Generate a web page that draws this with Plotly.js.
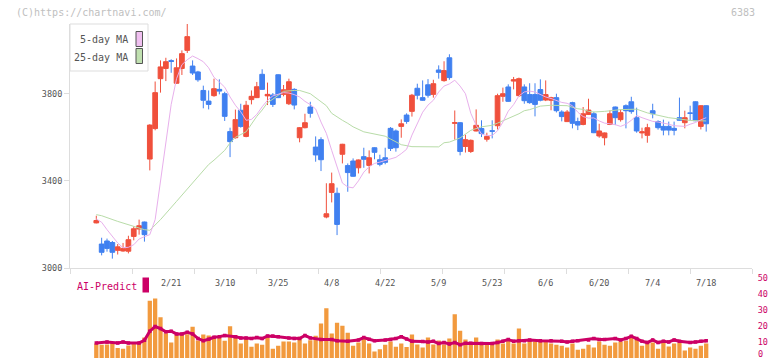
<!DOCTYPE html>
<html>
<head>
<meta charset="utf-8">
<script src="https://cdn.plot.ly/plotly-3.0.1.min.js"></script>
<style>html,body{margin:0;padding:0;background:#fff;}#chart{width:772px;height:361px;}</style>
</head>
<body>
<div id="chart"></div>
<script>
// ---- data (day index 0 = 1/31) ----
const dayIdx = Array.from({length: 115}, (_, i) => i);
const openP  = [3207,3110,3124,3117,3081,3078,3077,3145,3179,3211,3500,3640,3869,3916,3952,3848,3916,3999,3927,3900,3815,3766,3791,3820,3800,3626,3598,3724,3604,3773,3782,3889,3790,3794,3887,3797,3754,3820,3598,3644,3739,3555,3589,3234,3347,3343,3522,3470,3491,3460,3511,3471,3552,3497,3506,3641,3629,3650,3702,3719,3825,3782,3841,3797,3909,3860,3965,3664,3667,3558,3535,3629,3640,3591,3630,3653,3788,3831,3858,3791,3831,3796,3796,3819,3771,3770,3782,3716,3672,3759,3672,3659,3705,3708,3606,3598,3659,3739,3681,3745,3763,3690,3620,3609,3722,3672,3650,3650,3641,3690,3667,3712,3763,3650,3745];
const highP  = [3240,3139,3135,3124,3110,3115,3148,3191,3222,3213,3660,3856,3953,3965,3958,3962,3999,4121,3953,3905,3837,3815,3869,3866,3809,3644,3727,3754,3767,3815,3854,3912,3851,3803,3889,3840,3869,3825,3647,3708,3763,3604,3600,3389,3438,3369,3570,3480,3503,3498,3552,3540,3554,3520,3552,3647,3636,3682,3710,3799,3846,3861,3867,3864,3930,3949,3981,3723,3670,3612,3590,3728,3678,3621,3678,3800,3828,3843,3877,3874,3843,3848,3848,3866,3861,3786,3800,3724,3725,3763,3690,3739,3777,3717,3662,3622,3724,3741,3727,3751,3786,3736,3644,3662,3754,3678,3681,3672,3672,3782,3722,3745,3765,3747,3747];
const lowP   = [3205,3058,3075,3043,3062,3075,3067,3127,3153,3121,3448,3632,3805,3858,3896,3846,3886,3987,3886,3855,3733,3728,3786,3797,3675,3509,3594,3644,3600,3751,3780,3818,3748,3739,3780,3788,3748,3728,3577,3641,3690,3488,3445,3228,3301,3151,3480,3350,3419,3434,3460,3434,3499,3467,3476,3537,3534,3598,3662,3695,3774,3768,3782,3782,3869,3855,3864,3589,3517,3530,3528,3627,3601,3580,3595,3636,3763,3763,3820,3785,3754,3754,3696,3765,3766,3724,3714,3673,3670,3641,3633,3655,3703,3619,3598,3563,3656,3656,3672,3641,3708,3621,3595,3575,3687,3635,3609,3609,3609,3676,3641,3678,3674,3636,3626];
const closeP = [3218,3072,3090,3072,3097,3090,3130,3180,3194,3153,3656,3805,3923,3947,3948,3919,3984,4062,3895,3864,3770,3751,3823,3812,3696,3580,3681,3650,3747,3788,3832,3820,3797,3751,3782,3818,3855,3748,3644,3667,3710,3519,3497,3249,3387,3200,3568,3438,3421,3496,3499,3506,3531,3476,3485,3549,3552,3662,3673,3793,3793,3770,3793,3846,3898,3906,3874,3667,3535,3589,3586,3655,3617,3604,3628,3791,3800,3765,3864,3869,3768,3759,3751,3770,3796,3782,3722,3695,3716,3664,3656,3708,3725,3621,3629,3620,3708,3690,3713,3722,3718,3629,3625,3644,3708,3644,3633,3633,3632,3678,3690,3710,3676,3745,3662];

const ma5Idx = dayIdx;
const ma5Val = [3225,3210,3176,3145,3115,3093,3095,3107,3133,3144,3153,3222,3395,3592,3751,3869,3933,3956,3973,3961,3947,3919,3875,3854,3830,3785,3747,3717,3678,3682,3705,3740,3770,3790,3798,3805,3803,3796,3785,3765,3750,3730,3670,3618,3540,3465,3390,3372,3368,3400,3440,3465,3480,3486,3493,3500,3508,3525,3545,3610,3660,3715,3748,3770,3808,3835,3845,3862,3835,3800,3710,3655,3615,3608,3608,3630,3670,3720,3750,3790,3808,3812,3808,3795,3785,3778,3768,3760,3756,3745,3715,3695,3688,3689,3675,3665,3662,3658,3650,3660,3678,3700,3690,3680,3673,3670,3666,3660,3653,3651,3650,3660,3668,3680,3690];

const ma25Idx = [0,1,4,7,9,10,12,15,19,21,22,24,25,26,28,29,30,31,32,33,34,35,37,38,40,41,42,43,44,45,46,47,48,50,53,54,55,57,59,64,65,66,68,70,72,74,75,77,79,80,81,83,85,88,90,91,92,93,95,98,101,103,107,109,111,114];
const ma25Val = [3245,3240,3214,3191,3176,3173,3222,3306,3420,3475,3495,3540,3574,3600,3625,3660,3696,3725,3759,3775,3795,3811,3815,3815,3800,3782,3767,3745,3710,3692,3678,3664,3648,3625,3612,3605,3592,3566,3557,3556,3575,3578,3597,3632,3648,3655,3665,3686,3708,3722,3727,3743,3747,3745,3731,3728,3719,3716,3719,3727,3729,3712,3690,3684,3677,3675];

const volume = [9.0,8.2,8.4,9.5,6.3,5.7,7.8,9.0,8.9,12.8,35.7,37.0,25.3,15.4,9.6,14.7,14.4,14.8,19.5,10.9,14.7,14.0,13.3,13.6,10.7,19.8,14.2,9.0,13.1,7.0,9.0,8.2,12.9,5.7,7.6,10.2,10.2,9.7,13.2,9.0,11.1,13.9,21.5,31.0,15.2,22.0,20.1,15.7,7.7,9.7,12.5,9.0,4.0,5.5,8.3,10.2,7.0,9.0,6.8,14.7,8.4,6.5,12.7,8.4,10.9,8.4,12.2,27.2,17.0,11.5,8.4,12.7,8.4,8.4,8.3,11.5,9.0,10.8,9.0,18.3,9.0,10.8,10.2,10.8,10.2,9.0,8.3,7.7,6.5,9.0,5.2,5.8,8.3,6.5,10.2,8.3,7.7,9.6,10.2,10.8,14.0,12.7,7.7,9.6,9.6,5.8,9.6,7.1,9.0,9.6,4.6,6.5,5.8,7.7,9.0];

const aiIdx = [0,2,4,5,6,8,9,10,11,12,13,14,15,16,17,18,19,20,21,22,23,24,26,27,28,29,30,31,32,33,34,36,37,38,39,40,42,44,45,47,49,50,51,52,54,55,56,57,58,59,61,62,63,64,65,66,67,68,69,70,72,74,75,76,77,78,79,80,81,83,85,87,88,89,90,92,93,94,95,97,98,99,100,101,102,103,104,105,106,107,108,109,111,112,113,114];
const aiVal = [9.4,10,9.4,10,9.4,9.4,11,16.7,19.6,18.3,16.3,16.7,15,15,16,15,12.1,10.8,11.7,12.9,13.3,14,13.3,12.5,12.5,12.1,12.7,12.1,13.75,13.75,13.3,12.5,12.1,12.1,14,12.5,11.5,11.5,10.8,10.4,11.25,12.7,11.7,10.8,11.25,11.5,12.1,13.3,11.8,10.4,10.2,10,10.4,9,9.6,8.75,9.6,8.3,9.2,9.2,9,9,9.6,10.4,11.5,10.4,10.8,10.8,11.25,10.8,10.8,10.4,10,10.4,10.8,11.25,12.1,11.5,11.5,12.1,11.25,12.1,13.5,12.1,10.4,9.6,11.25,9.6,10.4,10,11.25,10.4,9.6,10,10.4,10.8];

const priceTicks = [3000, 3400, 3800];
const volTicks = [0, 10, 20, 30, 40, 50];
const dateTickIdx = [14, 24, 34, 44, 54, 64, 74, 84, 94, 104, 114];
const dateTickText = ['2/21','3/10','3/25','4/8','4/22','5/9','5/23','6/6','6/20','7/4','7/18'];

// ---- layout helpers ----
const W = 772, H = 361;
const px = v => v / W;
const py = v => 1 - v / H;
const xRange = [-4.916, 122.56];
const gridStep = (xRange[1] - xRange[0]) / 11;
const gridVals = Array.from({length: 12}, (_, k) => xRange[0] + k * gridStep);
const MONO = '"DejaVu Sans Mono", "Liberation Mono", monospace';

const traces = [
  {
    type: 'candlestick', x: dayIdx, open: openP, high: highP, low: lowP, close: closeP,
    xaxis: 'x', yaxis: 'y',
    increasing: {line: {color: '#F0503C', width: 1}, fillcolor: '#F0503C'},
    decreasing: {line: {color: '#4080F0', width: 1}, fillcolor: '#4080F0'},
    whiskerwidth: 0, hoverinfo: 'skip', showlegend: false
  },
  {
    type: 'scatter', mode: 'lines', x: ma25Idx, y: ma25Val, xaxis: 'x', yaxis: 'y',
    line: {color: '#B8DCA8', width: 1}, hoverinfo: 'skip', showlegend: false
  },
  {
    type: 'scatter', mode: 'lines', x: ma5Idx, y: ma5Val, xaxis: 'x', yaxis: 'y',
    line: {color: '#E8B0EC', width: 1}, hoverinfo: 'skip', showlegend: false
  },
  {
    type: 'bar', x: dayIdx, y: volume, xaxis: 'x2', yaxis: 'y2',
    marker: {color: '#F29A3E'}, hoverinfo: 'skip', showlegend: false
  },
  {
    type: 'scatter', mode: 'lines+markers', x: aiIdx, y: aiVal, xaxis: 'x2', yaxis: 'y2',
    line: {color: '#CC0066', width: 3}, marker: {color: '#CC0066', size: 3.5, symbol: 'square'},
    hoverinfo: 'skip', showlegend: false
  }
];

const annotations = [
  {text: '(C)https://chartnavi.com/', x: px(14), y: py(12.5), xanchor: 'left', yanchor: 'middle',
   font: {family: MONO, size: 10, color: '#C0C0C0'}},
  {text: '6383', x: px(757), y: py(12.5), xanchor: 'right', yanchor: 'middle',
   font: {family: MONO, size: 10, color: '#C0C0C0'}},
  {text: '5-day MA', x: px(129.5), y: py(39.5), xanchor: 'right', yanchor: 'middle',
   font: {family: MONO, size: 10, color: '#555555'}},
  {text: '25-day MA', x: px(129.5), y: py(57), xanchor: 'right', yanchor: 'middle',
   font: {family: MONO, size: 10, color: '#555555'}},
  {text: 'AI-Predict', x: px(75), y: py(286), xanchor: 'left', yanchor: 'middle',
   font: {family: MONO, size: 10, color: '#CC0066'}},
  // lowest volume tick label, kept inside the page edge
  {text: String(volTicks[0]), x: px(756), y: 0, xanchor: 'left', yanchor: 'bottom',
   font: {family: MONO, size: 8.5, color: '#CC0066'}}
].map(a => Object.assign({xref: 'paper', yref: 'paper', showarrow: false}, a));

dateTickIdx.forEach((d, k) => {
  annotations.push({text: dateTickText[k], x: d, xref: 'x2', y: py(282.5), yref: 'paper',
    xanchor: 'center', yanchor: 'middle', showarrow: false,
    font: {family: MONO, size: 8.5, color: '#555555'}});
});

const shapes = [
  {type: 'rect', xref: 'paper', yref: 'paper', x0: px(70), x1: px(148), y0: py(71), y1: py(24),
   line: {color: '#DDDDDD', width: 1}, fillcolor: '#FFFFFF', layer: 'above'},
  {type: 'rect', xref: 'paper', yref: 'paper', x0: px(136), x1: px(142.5), y0: py(46.5), y1: py(31.5),
   line: {color: '#555555', width: 1}, fillcolor: '#F0C0F0', layer: 'above'},
  {type: 'rect', xref: 'paper', yref: 'paper', x0: px(136), x1: px(142.5), y0: py(63.5), y1: py(48.5),
   line: {color: '#555555', width: 1}, fillcolor: '#C0E0B0', layer: 'above'},
  {type: 'rect', xref: 'paper', yref: 'paper', x0: px(142.5), x1: px(149), y0: py(292.5), y1: py(277.5),
   line: {width: 0}, fillcolor: '#CC0066', layer: 'above'}
];

const layout = {
  width: W, height: H,
  margin: {l: 0, r: 0, t: 0, b: 0, pad: 0},
  paper_bgcolor: '#FFFFFF', plot_bgcolor: '#FFFFFF',
  showlegend: false,
  boxgap: 0.12, boxgroupgap: 0,
  bargap: 0.2,
  font: {family: MONO, size: 8.5, color: '#555555'},
  xaxis: {
    domain: [px(70), px(752)], range: xRange, anchor: 'y',
    rangeslider: {visible: false},
    tickmode: 'array', tickvals: gridVals, showticklabels: false,
    ticks: 'outside', ticklen: 5, tickcolor: '#DDDDDD', tickwidth: 1,
    showline: true, linecolor: '#DDDDDD', linewidth: 1,
    showgrid: false, zeroline: false, fixedrange: true
  },
  yaxis: {
    domain: [1 - 268 / H, 1 - 24 / H], range: [3000, 4120], anchor: 'x',
    tickmode: 'array', tickvals: priceTicks,
    ticks: 'outside', ticklen: 5, tickcolor: '#DDDDDD', tickwidth: 1,
    showline: true, linecolor: '#DDDDDD', linewidth: 1,
    showgrid: false, zeroline: false, fixedrange: true,
    tickfont: {family: MONO, size: 8.5, color: '#555555'}
  },
  xaxis2: {
    domain: [px(70), px(752)], range: xRange, anchor: 'y2',
    showticklabels: false, ticks: '', showline: false, showgrid: false, zeroline: false, fixedrange: true
  },
  yaxis2: {
    domain: [1 - 358 / H, 1 - 277.7 / H], range: [0, 50], anchor: 'x2', side: 'right',
    tickmode: 'array', tickvals: volTicks.slice(1),
    ticks: 'outside', ticklen: 3, tickcolor: 'rgba(0,0,0,0)',
    showline: false, showgrid: false, zeroline: false, fixedrange: true,
    tickfont: {family: MONO, size: 8.5, color: '#CC0066'}
  },
  annotations: annotations,
  shapes: shapes
};

Plotly.newPlot('chart', traces, layout, {staticPlot: true, displayModeBar: false});
</script>
</body>
</html>
